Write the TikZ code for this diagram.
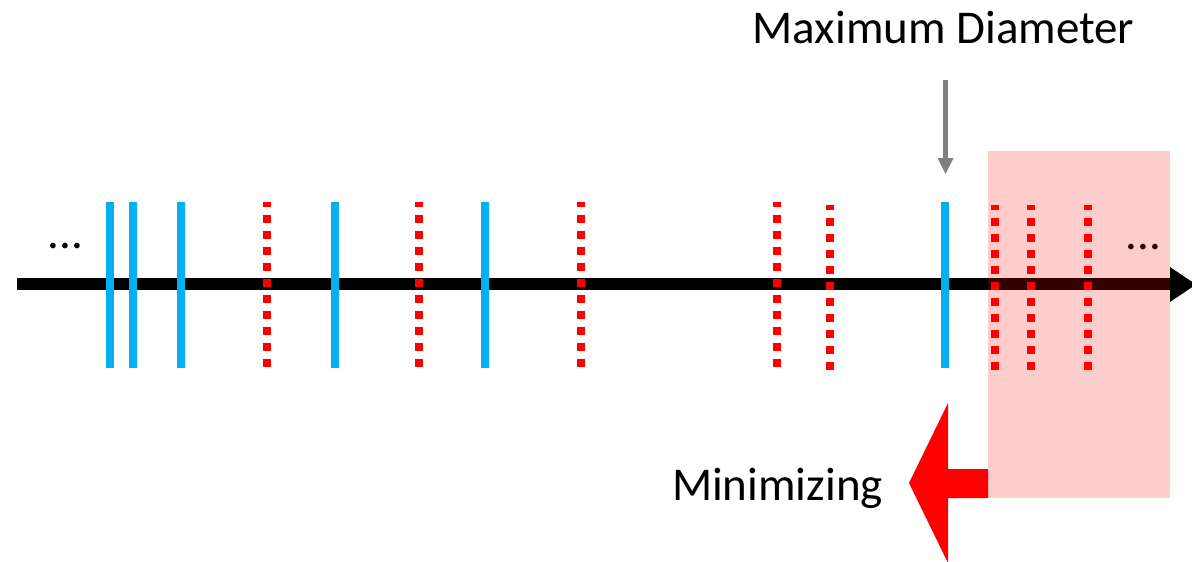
\documentclass[tikz,border=0pt]{standalone}
\usepackage{fontspec}
\setmainfont{Carlito}
\definecolor{markblue}{RGB}{0,176,240}
\definecolor{pointergray}{RGB}{128,128,128}
\begin{document}
\begin{tikzpicture}[x=1pt,y=-1pt,
  label/.style={inner sep=0pt,anchor=base,font=\fontsize{47}{56}\selectfont},
  bluemark/.style={draw=markblue,line width=8pt},
  redmark/.style={draw=red,line width=8pt,dash pattern=on 8pt off 8pt,dash phase=3pt},
  axisline/.style={line width=12pt,black}]
\useasboundingbox (0,0) rectangle (1192,562);

% time axis with its arrowhead
\draw[axisline] (17,284) -- (1171,284);
\fill[black] (1170,267) -- (1196,284.5) -- (1170,302) -- cycle;

% solid blue marks
\foreach \x in {110,133,181,335,485,945}
  \draw[bluemark] (\x,202) -- (\x,368);

% dotted red marks
\foreach \x in {267,419,581,777}
  \draw[redmark] (\x,202) -- (\x,367);
\foreach \x in {830,995,1031,1088}
  \draw[redmark] (\x,205) -- (\x,370);

% continuation dots
\node[label] (dotsL) at (65.5,248.6) {...};
\node[label] (dotsR) at (1143.5,249.6) {...};

% highlighted window
\fill[red,opacity=0.2] (988,151) rectangle (1170,498);

% block arrow pointing left
\fill[red] (988,469) -- (948,469) -- (948,403) -- (909,483) -- (948,563)
  -- (948,498) -- (988,498) -- cycle;

% pointer to the maximum diameter mark
\draw[line width=5pt,pointergray] (945.5,80) -- (945.5,159);
\fill[pointergray] (937.5,158) -- (953.5,158) -- (945.5,174) -- cycle;

\node[label] (maxd) at (943.5,43) {Maximum Diameter};
\node[label] (mini) at (777.5,500) {Minimizing};
\end{tikzpicture}
\end{document}
